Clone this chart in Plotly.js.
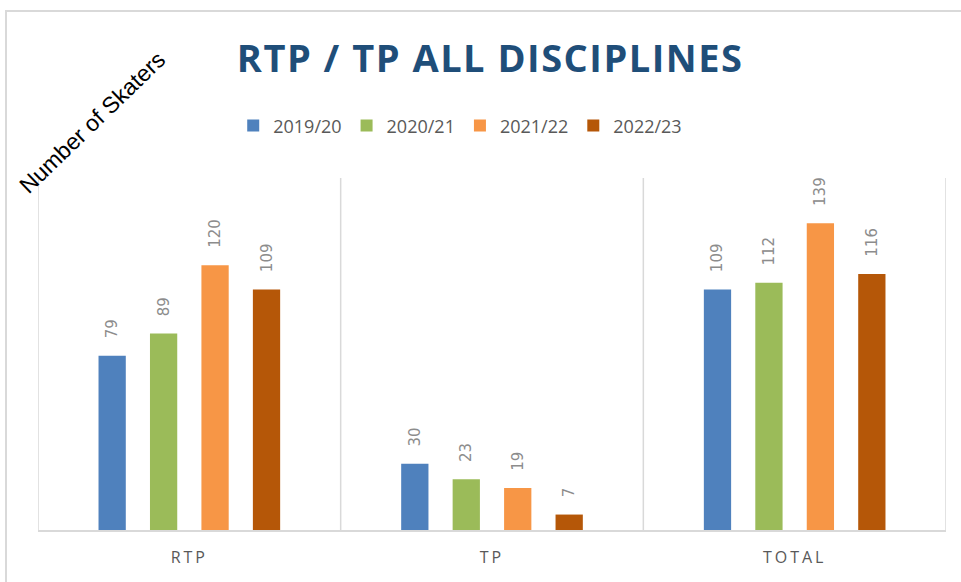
<!DOCTYPE html>
<html>
<head>
<meta charset="utf-8">
<script src="https://cdn.plot.ly/plotly-3.0.1.min.js"></script>
<style>
html,body{margin:0;padding:0;background:#fff;}
#wrap{position:relative;width:961px;height:582px;overflow:hidden;}
#frame{position:absolute;left:5px;top:10px;width:2000px;height:2000px;border-left:2px solid #d9d9d9;border-top:2px solid #d9d9d9;pointer-events:none;}
#chart{position:absolute;left:0;top:0;width:961px;height:582px;}
.gtitle{letter-spacing:1.5px;}
.xtick text{letter-spacing:3px;}
</style>
</head>
<body>
<div id="wrap"><div id="chart"></div><div id="frame"></div></div>
<script>
const categories = ["RTP", "TP", "TOTAL"];
const seasons = ["2019/20", "2020/21", "2021/22", "2022/23"];
const v2019 = [79, 30, 109];
const v2020 = [89, 23, 112];
const v2021 = [120, 19, 139];
const v2022 = [109, 7, 116];
const colors = ["#4F81BD", "#9BBB59", "#F79646", "#B55708"];

const series = [v2019, v2020, v2021, v2022];
const traces = series.map((vals, i) => ({
  type: "bar",
  name: seasons[i],
  x: categories,
  y: vals,
  marker: {color: colors[i]},
  text: vals.map(v => "\u00a0\u00a0\u00a0" + v),
  textposition: "outside",
  textangle: -90,
  constraintext: "none",
  cliponaxis: false,
  textfont: {family: "DejaVu Sans", size: 15, color: "#8c8c8c"},
  hoverinfo: "skip"
}));

const shapes = [-0.5, 0.5, 1.5, 2.5].map(x => ({
  type: "line", xref: "x", yref: "paper", x0: x, x1: x, y0: 0, y1: 1,
  line: {color: "#d9d9d9", width: 1.5}
}));

const layout = {
  width: 961, height: 582,
  margin: {l: 38, r: 15, t: 178, b: 52},
  paper_bgcolor: "rgba(0,0,0,0)",
  plot_bgcolor: "rgba(0,0,0,0)",
  barmode: "group",
  bargap: 0.32,
  bargroupgap: 0.47,
  title: {
    text: "<b>RTP / TP ALL DISCIPLINES</b>",
    x: 0.51, xanchor: "center", y: 0.9, yanchor: "middle",
    font: {family: "Open Sans", size: 38, color: "#1F4E79"}
  },
  showlegend: true,
  legend: {
    orientation: "h", x: 0.465, xanchor: "center", y: 1.148, yanchor: "middle",
    font: {family: "Open Sans", size: 18, color: "#595959"},
    itemwidth: 30, traceorder: "normal"
  },
  xaxis: {
    range: [-0.5, 2.5],
    showline: true, linecolor: "#d9d9d9", linewidth: 2,
    ticks: "", showgrid: false, ticklabelstandoff: 12,
    tickfont: {family: "Open Sans", size: 16, color: "#595959"},
    fixedrange: true
  },
  yaxis: {
    range: [0, 159.5],
    showgrid: false, showticklabels: false, zeroline: false, showline: false,
    fixedrange: true
  },
  shapes: shapes,
  annotations: [{
    text: "Number of Skaters",
    xref: "paper", yref: "paper",
    x: 0.06, y: 1.16, xanchor: "center", yanchor: "middle",
    textangle: -44, showarrow: false,
    font: {family: "Liberation Sans", size: 23, color: "#000"}
  }]
};

Plotly.newPlot("chart", traces, layout, {displayModeBar: false, staticPlot: true});
</script>
</body>
</html>
